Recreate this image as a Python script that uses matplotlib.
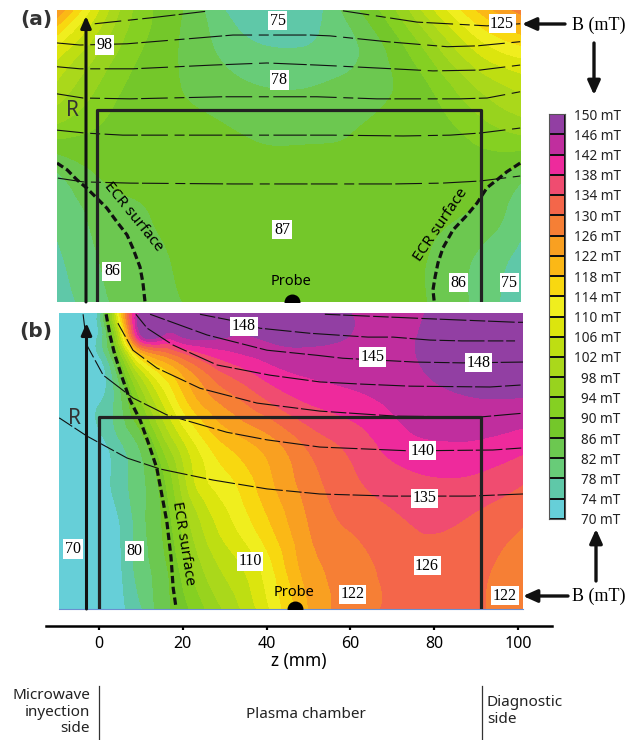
"""Magnetic field maps of the plasma chamber, panels (a) and (b)."""

import matplotlib
matplotlib.use("Agg")
from matplotlib import pyplot as plt
from matplotlib.colors import BoundaryNorm, ListedColormap
from matplotlib.tri import Triangulation, UniformTriRefiner
import numpy as np

W, H = 628, 740
SANS = "Noto Sans"
SERIF = "Liberation Serif"

# color scale
levels = list(range(70, 151, 4))
band_colors = [
    "#66cfd8", "#5fc8a8", "#68cc78", "#6cc850", "#74c72a",
    "#85d022", "#98d31e", "#aad81b", "#bede12", "#dce50e",
    "#f0ee1e", "#f8d810", "#fbb816", "#f9a021", "#f67f35",
    "#f4664a", "#f04c70", "#ee2a9c", "#c02e9e", "#923fa3",
]

# field samples, rows are R (mm), columns are z (mm)
r_grid_a = [0, 10, 20, 30, 40, 50, 60, 70]
z_grid_a = [-10, 0, 10, 20, 30, 40, 50, 60, 70, 80, 90, 101]
b_field_a = [
    [75, 81, 84, 86, 87, 87, 87, 87, 87, 85.5, 81, 75],
    [77, 82, 84.5, 86.5, 87, 87, 87, 87, 87, 85.5, 81.5, 76.5],
    [78.5, 83, 85.5, 87, 87, 87, 87, 87, 87, 86.5, 85, 79],
    [81, 86, 87, 87, 87, 87, 87, 87, 87, 87, 87.5, 83],
    [91, 89, 87.5, 87, 86.5, 85.5, 85.5, 86, 87, 88, 91, 94],
    [100, 93, 88, 86, 84, 82.5, 82.5, 84, 86, 90, 97, 102],
    [108, 98, 90, 85.5, 81, 78.5, 78.5, 81, 87, 96, 106, 112],
    [126, 106, 92, 86, 78, 74.5, 75.5, 84, 93, 106, 118, 128],
]
r_grid_b = [0, 10, 20, 30, 40, 50, 60, 65, 70]
z_grid_b = [-10, 0, 5, 10, 15, 20, 30, 40, 50, 60, 70, 80, 90, 102]
b_field_b = [
    [70, 70, 73, 77.5, 84, 88.5, 98.5, 109, 122, 127.5, 131, 132, 130.5, 127],
    [70, 70.5, 73.5, 80, 84.5, 91.5, 103, 112, 124, 128, 131.5, 132.5, 131, 127.5],
    [70, 71, 74, 80.5, 86, 95, 108, 117, 126, 130.5, 133, 134.5, 133, 130],
    [70, 72, 76, 81, 88, 100, 112.5, 120.5, 128, 133, 136, 137.5, 137, 134],
    [70, 72.5, 78, 84, 96, 106, 119, 124.5, 131.5, 135.5, 140, 142, 142, 140],
    [70, 73, 81, 95, 107, 117, 128, 134.5, 139, 141, 143, 145, 146, 146],
    [70, 74, 92, 118, 126, 132, 140, 143.5, 145, 145, 145, 147, 148.5, 148.5],
    [70, 74.5, 105, 146, 147, 147.5, 147, 147, 147, 146, 145, 147, 148.5, 148.5],
    [70, 75, 115, 147, 147.5, 147.5, 148, 148, 147.5, 146, 145, 146.5, 148, 148],
]

# field lines of panel (a), (z, R) in mm
lines_a = [
    ([-1, 12.2, 26.5], [66.7, 68.1, 69.8]),
    ([58.2, 75.9, 92.6, 100.5], [69.8, 67.1, 66.2, 66.7]),
    ([-10, -4.5, 6.7, 17.7, 32, 50.4, 55.1, 68.7, 83.1, 90.2, 100.5],
     [62.1, 61.6, 61.9, 62.8, 64, 64, 63.8, 62.4, 61.2, 61.4, 62.4]),
    ([-10, -4.5, 8.1, 27.2, 40.1, 52, 56.3, 70.2, 79.7, 90.9, 100.5],
     [56.4, 55.9, 55.9, 56.8, 57.3, 56.8, 56.6, 55.9, 55.4, 55.6, 56.8]),
    ([-10, -3.8, 7.4, 29.6, 52, 66.3, 86.2, 92.6, 100.5],
     [49.9, 48.9, 48.7, 49.2, 49.2, 48.7, 48.7, 48.9, 50.4]),
    ([-10, -3.3, 5.7, 45.6, 55.6, 72.6, 83.8, 90.9, 100.5],
     [41.2, 40.5, 40, 40, 40, 39.8, 40, 40.5, 41.7]),
    ([-9.8, -3.8, 7.4, 32, 52, 70.2, 81.9, 90.9, 100.5],
     [29.7, 28.8, 28.5, 28.3, 28.3, 28.3, 28.5, 29, 30.2]),
]
# field lines of panel (b)
lines_b = [
    ([53.9, 79.7, 99.8, 101.2], [69.7, 68.6, 67.8, 67.8]),
    ([24.1, 31.3, 38.4, 50.4, 64.2, 70.2, 79, 86.6, 99.3],
     [69.7, 68.3, 66.4, 65.2, 64.3, 64.3, 63.6, 63.4, 63.4]),
    ([12.2, 25.8, 40.1, 52, 58.2, 75.4, 86.9, 101.2],
     [69.7, 64.8, 61.2, 60, 59.3, 58.4, 58.2, 58.4]),
    ([8.8, 11.5, 17.7, 28.2, 40.8, 52.7, 62.3, 74.2, 93.3, 101.2],
     [69.7, 66.4, 62.4, 57.7, 55.3, 53.7, 53.2, 52.7, 52.5, 53]),
    ([4.5, 8.1, 13.8, 24.1, 37.7, 52.7, 66.3, 71.1, 90.9, 98.8, 101.2],
     [67.6, 61.2, 57, 52.2, 48.7, 46.8, 45.9, 45.6, 45.4, 46.1, 46.3]),
    ([-3.8, -2.9, 1, 8.1, 16.2, 30.5, 40.1, 52.7, 64.7, 74.2, 94, 101.2],
     [69.7, 62.4, 55.3, 49.9, 45.9, 41.8, 40, 38.3, 37.8, 37.4, 37.6, 38.1]),
    ([-9.5, -2.9, 6.7, 14.6, 27.2, 40.1, 52.7, 69.5, 88.5, 101.2],
     [45.2, 40.9, 35.7, 33.1, 30.5, 28.4, 27.2, 26.7, 26.7, 27.2]),
]

# ECR surfaces
ecr_a = [
    ([-10, -7.6, -5.25, -2.9, -0.5, 1.9, 4.3, 6.7, 8.1, 9.8, 10.5, 11],
     [33.3, 31.7, 29.3, 27.3, 24.9, 22.5, 19.2, 16.1, 12.9, 8.4, 4.6, 0]),
    ([100.5, 97.3, 95, 92.6, 90.2, 87.8, 84.5, 82.1, 80.9, 80.2, 79.7, 80],
     [33.3, 31.2, 29.3, 27.4, 23.7, 20.8, 17.3, 13, 9.4, 6, 2.9, 0]),
]
ecr_b = [
    ([1.7, 2.6, 3.8, 5.5, 7.4, 9.8, 11.7, 13.8, 15, 16.2, 17.2, 17.7, 18.4],
     [69.7, 64.8, 60, 54.8, 49.4, 44.7, 39.5, 33.3, 27, 20.6, 12.1, 5, 0.2]),
]

# value labels (z, R, text)
labels_a = [
    (42.7, 67.4, "75"), (1.4, 61.6, "98"), (43, 53.2, "78"), (43.7, 17.3, "87"),
    (3.1, 7.4, "86"), (96.2, 66.7, "125"), (85.7, 4.6, "86"), (97.9, 4.6, "75"),
]
labels_b = [
    (34.6, 66.9, "148"), (-6.2, 14.2, "70"), (8.4, 13.7, "80"), (36, 11.3, "110"),
    (65.2, 59.6, "145"), (90.5, 58.2, "148"), (77.3, 37.4, "140"), (77.6, 26.2, "135"),
    (78.3, 10.2, "126"), (60.6, 3.5, "122"), (96.9, 3.1, "122"),
]

z_ticks = [0, 20, 40, 60, 80, 100]


def px_axes(fig, left, top, right, bottom):
    """Add an axes given by its pixel box."""
    return fig.add_axes([left / W, 1 - bottom / H, (right - left) / W, (bottom - top) / H])


def draw_panel(ax, z_grid, r_grid, field, lines, ecr, labels, box, xlim, dashes):
    """Draw one field map with its lines, chamber box and labels."""
    zz, rr = np.meshgrid(z_grid, r_grid)
    tri = Triangulation(zz.ravel(), rr.ravel())
    tri_fine, field_fine = UniformTriRefiner(tri).refine_field(np.array(field, float).ravel(), subdiv=3)
    ax.tricontourf(tri_fine, field_fine, levels=levels, cmap=cmap, norm=norm, extend="both", antialiased=False)

    for z, r in lines:
        ax.plot(z, r, color="#111111", lw=0.8, ls=(0, dashes), zorder=3)
    for z, r in ecr:
        ax.plot(z, r, color="#111111", lw=2.3, ls=(0, (2.3, 1.1)), zorder=4)

    # chamber walls
    ax.plot([box[0], box[0], box[1], box[1]], [0, box[2], box[2], 0], color="#222222", lw=2.3, zorder=5)

    for z, r, text in labels:
        ax.text(z, r, text, family=SERIF, fontsize=11.5, ha="center", va="center", zorder=7,
                bbox=dict(facecolor="white", edgecolor="none", pad=1.2))

    ax.set_xlim(*xlim)
    ax.set_ylim(0, 70)
    ax.set_xticks([])
    ax.set_yticks([])
    for spine in ax.spines.values():
        spine.set_visible(False)


cmap = ListedColormap(band_colors).with_extremes(under=band_colors[0], over=band_colors[-1])
norm = BoundaryNorm(levels, 20)

fig = plt.figure(figsize=(W / 100, H / 100), dpi=100)

ax_a = px_axes(fig, 57, 10, 521, 302)
draw_panel(ax_a, z_grid_a, r_grid_a, b_field_a, lines_a, ecr_a, labels_a, (-0.5, 91.2, 46),
           (-10, 100.7), (24, 6, 9, 4, 30, 3))
ax_a.scatter([46.1], [0], s=110, color="black", zorder=6)
ax_a.text(45.8, 5, "Probe", family=SANS, fontsize=10.5, ha="center", va="center", zorder=6)
ax_a.text(8.3, 20.5, "ECR surface", family=SANS, fontsize=11, rotation=-51, ha="center", va="center", zorder=6)
ax_a.text(81.5, 18.5, "ECR surface", family=SANS, fontsize=11, rotation=56, ha="center", va="center", zorder=6)

ax_b = px_axes(fig, 59, 313, 523, 609)
draw_panel(ax_b, z_grid_b, r_grid_b, b_field_b, lines_b, ecr_b, labels_b, (0, 91.2, 45.4),
           (-9.55, 101.2), (14, 2.5, 24, 3))
ax_b.scatter([46.8], [0], s=110, color="black", zorder=6)
ax_b.text(46.5, 4, "Probe", family=SANS, fontsize=10.5, ha="center", va="center", zorder=6)
ax_b.text(20, 15.5, "ECR surface", family=SANS, fontsize=11, rotation=-81, ha="center", va="center", zorder=6)
ax_b.spines["bottom"].set_visible(True)
ax_b.spines["bottom"].set_color("#6a8fd0")

# color legend
ax_cb = px_axes(fig, 549, 114, 565, 519)
ax_cb.pcolormesh([0, 1], levels, np.array(levels[:-1]).reshape(-1, 1), cmap=cmap, norm=norm,
                 edgecolors="#111111", linewidth=1.1)
ax_cb.set_xticks([])
ax_cb.yaxis.tick_right()
ax_cb.set_yticks(levels, [f"{v} mT" for v in levels], family=SANS, fontsize=9.8, ha="right", color="#222222")
ax_cb.tick_params(axis="y", length=0, pad=40)
for spine in ax_cb.spines.values():
    spine.set_color("#555555")

# z axis
ax_z = px_axes(fig, 46, 625, 552, 626)
ax_z.set_xlim((46 - 99) / 4.19, (552 - 99) / 4.19)
ax_z.set_yticks([])
ax_z.set_xticks(z_ticks)
ax_z.tick_params(axis="x", length=3, width=1.6, labelsize=11.5, pad=4)
for lab in ax_z.get_xticklabels():
    lab.set_family(SANS)
ax_z.set_xlabel("z (mm)", family=SANS, fontsize=12.5, labelpad=0)
for name, spine in ax_z.spines.items():
    spine.set_visible(name == "bottom")
ax_z.spines["bottom"].set_linewidth(1.8)

# annotations placed on the page, pixel coordinates
page = fig.add_axes([0, 0, 1, 1], zorder=10)
page.set_xlim(0, W)
page.set_ylim(H, 0)
page.axis("off")


def arrow(tail, tip, lw=2.4, head="-|>,head_width=0.27,head_length=0.6", size=14):
    page.annotate("", xy=tip, xytext=tail,
                  arrowprops=dict(arrowstyle=head, lw=lw, color="#111111", mutation_scale=size,
                                  shrinkA=0, shrinkB=0))


arrow((86, 302), (86, 16), lw=2.2, head="-|>,head_width=0.22,head_length=0.5")
arrow((86.5, 609), (86.5, 323), lw=2.2, head="-|>,head_width=0.22,head_length=0.5")
arrow((565, 24), (522, 24))
arrow((568, 596), (523, 596))
arrow((594, 43), (594, 95))
arrow((596, 581), (596, 529))

page.text(572, 25, "B (mT)", family=SERIF, fontsize=13, va="center")
page.text(572, 596, "B (mT)", family=SERIF, fontsize=13, va="center")
page.text(36, 20, "(a)", family="DejaVu Sans", fontsize=14.5, fontweight="bold", color="#333333", ha="center", va="center")
page.text(36, 332, "(b)", family="DejaVu Sans", fontsize=14.5, fontweight="bold", color="#333333", ha="center", va="center")
page.text(72, 110, "R", family=SANS, fontsize=15, color="#333333", ha="center", va="center")
page.text(74, 418, "R", family=SANS, fontsize=15, color="#333333", ha="center", va="center")

page.plot([99, 99], [686, 740], color="#333333", lw=0.9)
page.plot([482, 482], [686, 740], color="#333333", lw=0.9)
page.text(90, 712, "Microwave\ninyection\nside", family=SANS, fontsize=11, ha="right", va="center", linespacing=1.12, color="#222222")
page.text(306, 714, "Plasma chamber", family=SANS, fontsize=11, ha="center", va="center", color="#222222")
page.text(487, 711, "Diagnostic\nside", family=SANS, fontsize=11, ha="left", va="center", linespacing=1.12, color="#222222")

fig.savefig("out.png", dpi=100)
